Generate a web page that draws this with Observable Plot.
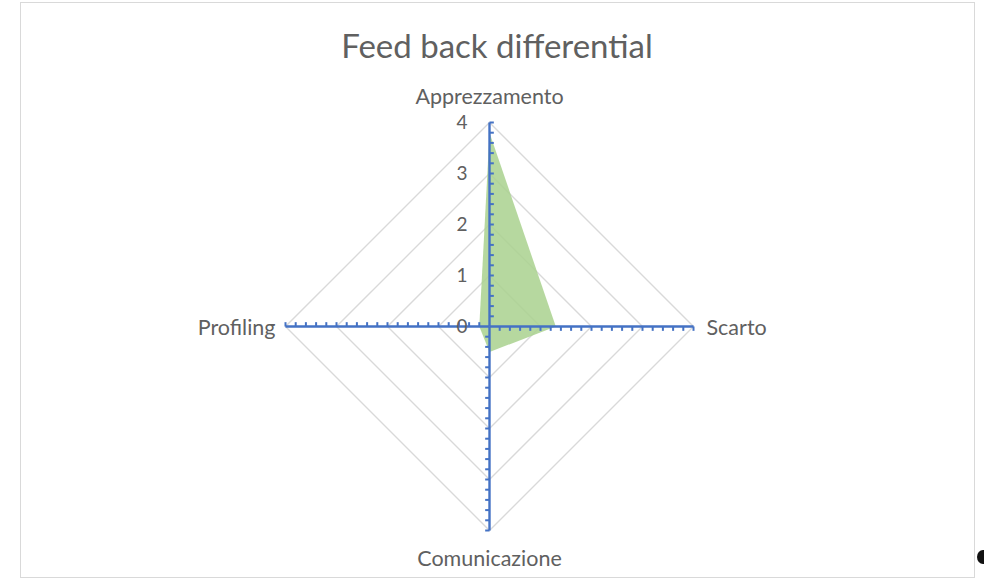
<!DOCTYPE html>
<html>
<head>
<meta charset="utf-8">
<script src="https://cdn.jsdelivr.net/npm/d3@7"></script>
<script src="https://cdn.jsdelivr.net/npm/@observablehq/plot@0.6"></script>
<style>
  body { margin: 0; background: #fff; }
  #wrap { position: relative; width: 984px; height: 587px; overflow: hidden; font-family: Lato, "Open Sans", sans-serif; }
  #frame { position: absolute; left: 20px; top: 2px; width: 953px; height: 574px; border: 1.5px solid #d9d9d9; }
  #title { position: absolute; left: 0; width: 994px; top: 25px; text-align: center; font-size: 33px; color: #606060; }
  #chart { position: absolute; left: 0; top: 0; }
  #dot { position: absolute; left: 977px; top: 550px; width: 12px; height: 14px; border-radius: 50%; background: #111; }
</style>
</head>
<body>
<div id="wrap">
  <div id="frame"></div>
  <div id="chart"></div>
  <div id="title">Feed back differential</div>
  <div id="dot"></div>
</div>
<script>
const categories = ["Apprezzamento", "Scarto", "Comunicazione", "Profiling"];
const values = [3.8, 1.3, 0.5, 0.2];
const tickValues = [0, 1, 2, 3, 4];
const maxValue = 4;
const minorStep = 0.2;

// directions: clockwise from top
const dirs = categories.map((c, i) => {
  const a = Math.PI / 2 - i * 2 * Math.PI / categories.length;
  return {c, dx: Math.round(Math.cos(a) * 1e9) / 1e9, dy: Math.round(Math.sin(a) * 1e9) / 1e9};
});

// grid rings
const rings = [];
tickValues.filter(t => t > 0).forEach(t => {
  dirs.forEach(d => rings.push({ring: t, x: d.dx * t, y: d.dy * t}));
});

// spokes
const spokes = dirs.map(d => ({x1: 0, y1: 0, x2: d.dx * maxValue, y2: d.dy * maxValue}));

// minor ticks (perpendicular, clockwise rotation of direction)
const tickLen = 0.085;
const minor = [];
dirs.forEach(d => {
  const px = d.dy, py = -d.dx;
  for (let k = 1; k * minorStep <= maxValue + 1e-9; k++) {
    const v = k * minorStep;
    minor.push({x1: d.dx * v, y1: d.dy * v, x2: d.dx * v + px * tickLen, y2: d.dy * v + py * tickLen});
  }
});

// data polygon
const poly = dirs.map((d, i) => ({x: d.dx * values[i], y: d.dy * values[i]}));

// labels
const catLabels = dirs.map(d => ({c: d.c, x: d.dx * maxValue, y: d.dy * maxValue}));
const offsets = [
  {dx: 0, dy: -25, anchor: "middle"},
  {dx: 13, dy: 2, anchor: "start"},
  {dx: 0, dy: 29, anchor: "middle"},
  {dx: -10, dy: 2, anchor: "end"}
];

const cx = 489, cy = 326, unit = 51;

const plot = Plot.plot({
  width: 984,
  height: 587,
  margin: 0,
  x: {domain: [-maxValue, maxValue], range: [cx - unit * maxValue, cx + unit * maxValue], axis: null},
  y: {domain: [-maxValue, maxValue], range: [cy + unit * maxValue, cy - unit * maxValue], axis: null},
  style: {fontFamily: "Lato, 'Open Sans', sans-serif", background: "transparent"},
  marks: [
    Plot.line(rings, {x: "x", y: "y", z: "ring", curve: "linear-closed", stroke: "#d9d9d9", strokeWidth: 1.4}),
    Plot.line(poly, {x: "x", y: "y", curve: "linear-closed", fill: "#a9d18e", fillOpacity: 0.85, stroke: "none"}),
    Plot.link(spokes, {x1: "x1", y1: "y1", x2: "x2", y2: "y2", stroke: "#4472c4", strokeWidth: 2.4}),
    Plot.link(minor, {x1: "x1", y1: "y1", x2: "x2", y2: "y2", stroke: "#4472c4", strokeWidth: 2}),
    Plot.text(tickValues, {x: 0, y: d => d, text: d => String(d), dx: -22, textAnchor: "end", fontSize: 19, fill: "#606060"}),
    ...catLabels.map((l, i) => Plot.text([l], {x: "x", y: "y", text: "c", dx: offsets[i].dx, dy: offsets[i].dy, textAnchor: offsets[i].anchor, fontSize: 21.5, fill: "#606060"}))
  ]
});
document.getElementById("chart").appendChild(plot);
</script>
</body>
</html>
